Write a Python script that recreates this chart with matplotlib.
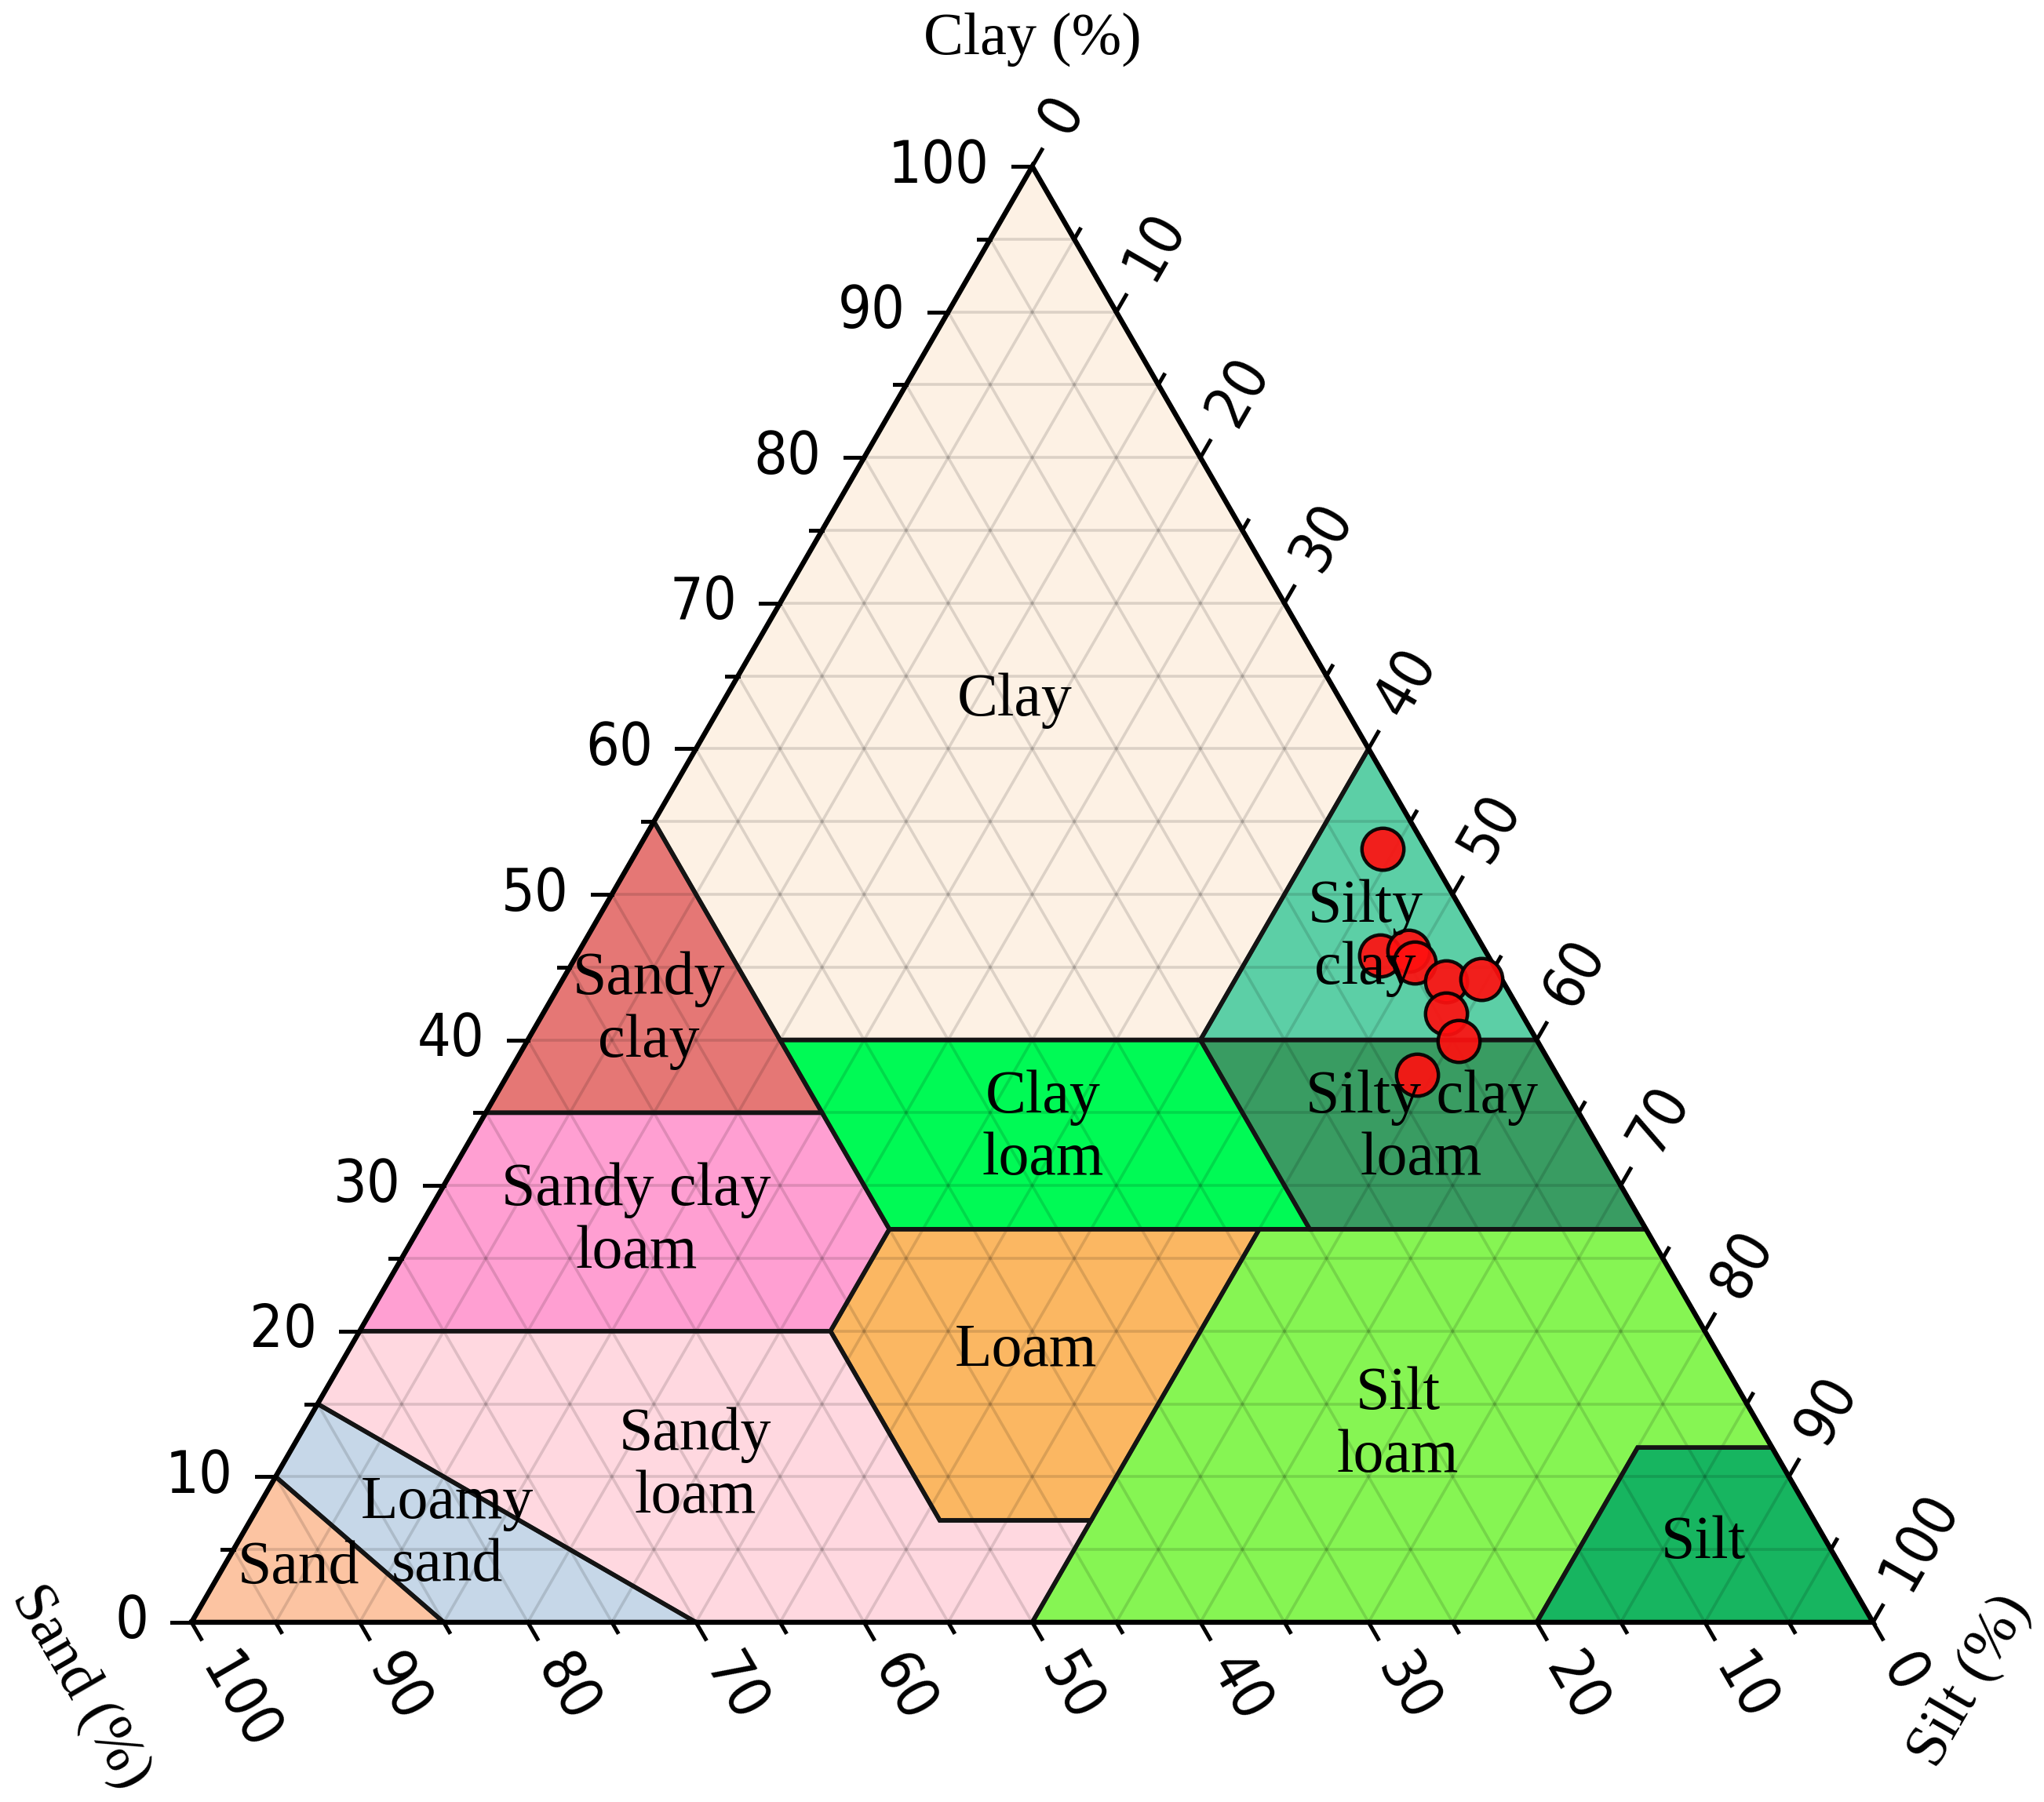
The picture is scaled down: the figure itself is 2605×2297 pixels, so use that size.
import matplotlib.pyplot as plt
import numpy as np
from matplotlib.patches import Polygon

# USDA texture classes, vertices given as (clay, silt, sand) in %
class_names = ['Clay', 'Sandy clay', 'Silty clay', 'Sandy clay loam', 'Clay loam',
               'Silty clay loam', 'Loam', 'Silt loam', 'Silt', 'Sandy loam',
               'Loamy sand', 'Sand']
class_vertices = [
    [(100, 0, 0), (55, 0, 45), (40, 15, 45), (40, 40, 20), (60, 40, 0)],
    [(55, 0, 45), (35, 0, 65), (35, 20, 45), (40, 15, 45)],
    [(60, 40, 0), (40, 40, 20), (40, 60, 0)],
    [(35, 0, 65), (20, 0, 80), (20, 28, 52), (27, 28, 45), (35, 20, 45)],
    [(40, 15, 45), (27, 28, 45), (27, 53, 20), (40, 40, 20)],
    [(40, 40, 20), (27, 53, 20), (27, 73, 0), (40, 60, 0)],
    [(27, 28, 45), (20, 28, 52), (7, 41, 52), (7, 50, 43), (27, 50, 23)],
    [(27, 50, 23), (27, 73, 0), (12, 88, 0), (12, 80, 8), (0, 80, 20), (0, 50, 50), (7, 50, 43)],
    [(12, 88, 0), (0, 100, 0), (0, 80, 20), (12, 80, 8)],
    [(20, 0, 80), (15, 0, 85), (0, 30, 70), (0, 50, 50), (7, 50, 43), (7, 41, 52), (20, 28, 52)],
    [(15, 0, 85), (10, 0, 90), (0, 15, 85), (0, 30, 70)],
    [(10, 0, 90), (0, 0, 100), (0, 15, 85)],
]
class_colors = ['#fdf1e4', '#e57775', '#5ccfa6', '#ff9fd2', '#00fa55', '#399c62',
                '#fbb762', '#86f553', '#17b560', '#ffd8e0', '#c6d7e8', '#fcc4a2']
class_labels = ['Clay', 'Sandy\nclay', 'Silty\nclay', 'Sandy clay\nloam', 'Clay\nloam',
                'Silty clay\nloam', 'Loam', 'Silt\nloam', 'Silt', 'Sandy\nloam',
                'Loamy\nsand', 'Sand']
# label anchor (clay, silt)
label_anchor = [(63.3, 17.3), (42.0, 6.2), (47.0, 46.3), (27.5, 12.7), (33.9, 33.7),
                (33.9, 56.2), (18.6, 40.3), (13.5, 65.0), (5.4, 87.2), (10.7, 24.6),
                (6.0, 12.2), (3.7, 4.5)]

# samples
sample_clay = [53.1, 45.8, 46.1, 45.3, 44.0, 44.2, 41.8, 39.9, 37.6]
sample_silt = [44.3, 47.8, 49.3, 50.1, 52.6, 54.6, 53.7, 55.4, 54.1]
sample_sand = [100 - c - s for c, s in zip(sample_clay, sample_silt)]

tick_values = list(range(0, 101, 10))

H = np.sqrt(3) / 2


def to_xy(clay, silt):
    clay = np.asarray(clay, dtype=float) / 100
    silt = np.asarray(silt, dtype=float) / 100
    return silt + clay / 2, clay * H


fig = plt.figure(figsize=(13.025, 11.485), dpi=200)
ax = fig.add_axes([0, 0, 1, 1])
ax.set_xlim(-0.1139, 1.1017)
ax.set_ylim(-0.1069, 0.9650)
ax.set_axis_off()

serif = ['Liberation Serif', 'DejaVu Serif']

# class polygons
for verts, col in zip(class_vertices, class_colors):
    xs, ys = to_xy([v[0] for v in verts], [v[1] for v in verts])
    ax.add_patch(Polygon(np.column_stack([xs, ys]), closed=True, facecolor=col,
                         edgecolor='none', zorder=1))

# grid every 5 %
for v in range(5, 100, 5):
    x, y = to_xy([v, v], [0, 100 - v])          # constant clay
    ax.plot(x, y, color='k', alpha=0.13, lw=1.3, zorder=2)
    x, y = to_xy([0, 100 - v], [v, v])          # constant silt
    ax.plot(x, y, color='k', alpha=0.13, lw=1.3, zorder=2)
    x, y = to_xy([0, 100 - v], [100 - v, 0])    # constant sand
    ax.plot(x, y, color='k', alpha=0.13, lw=1.3, zorder=2)

for verts in class_vertices:
    xs, ys = to_xy([v[0] for v in verts], [v[1] for v in verts])
    ax.add_patch(Polygon(np.column_stack([xs, ys]), closed=True, facecolor='none',
                         edgecolor='#141414', lw=2.0, zorder=3))

# triangle frame
ax.plot([0, 1, 0.5, 0], [0, 0, H, 0], color='k', lw=2.3, zorder=4,
        solid_joinstyle='miter')

# ticks and tick labels
major, minor, pad = 0.0115, 0.0068, 0.014
for v in range(0, 101, 5):
    L = major if v % 10 == 0 else minor
    # clay (left edge), ticks pointing left
    x0, y0 = to_xy(v, 0)
    ax.plot([x0, x0 - L], [y0, y0], color='k', lw=1.8, zorder=4)
    # sand (bottom edge), ticks down-right
    x1, y1 = to_xy(0, 100 - v)
    ax.plot([x1, x1 + 0.5 * L], [y1, y1 - H * L], color='k', lw=1.8, zorder=4)
    # silt (right edge), ticks up-right
    x2, y2 = to_xy(100 - v, v)
    ax.plot([x2, x2 + 0.5 * L], [y2, y2 + H * L], color='k', lw=1.8, zorder=4)

for v in tick_values:
    d = major + pad
    x0, y0 = to_xy(v, 0)
    ax.text(x0 - d, y0, str(v), ha='right', va='center', fontsize=27,
            fontstretch='condensed')
    x1, y1 = to_xy(0, 100 - v)
    ax.text(x1 + 0.5 * d, y1 - H * d, str(v), ha='left', va='center', fontsize=27,
            rotation=-60, rotation_mode='anchor', fontstretch='condensed')
    x2, y2 = to_xy(100 - v, v)
    ax.text(x2 + 0.5 * d, y2 + H * d, str(v), ha='left', va='center', fontsize=27,
            rotation=60, rotation_mode='anchor', fontstretch='condensed')

# axis titles
ax.text(0.5, 0.9417, 'Clay (%)', ha='center', va='center', fontsize=27.5, family=serif)
ax.text(-0.0658, -0.0388, 'Sand (%)', ha='center', va='center', fontsize=27.5,
        rotation=-60, family=serif)
ax.text(1.058, -0.035, 'Silt (%)', ha='center', va='center', fontsize=27.5,
        rotation=60, family=serif)

# class labels
for lab, (c, s) in zip(class_labels, label_anchor):
    x, y = to_xy(c, s)
    ax.text(x, y, lab, ha='center', va='center', fontsize=28, family=serif,
            linespacing=1.15, zorder=7)

# samples
sx, sy = to_xy(sample_clay, sample_silt)
ax.scatter(sx, sy, s=370, color='#ff1010', alpha=0.92, edgecolors='k',
           linewidths=1.6, zorder=6)

fig.savefig('out.png', dpi=200)
